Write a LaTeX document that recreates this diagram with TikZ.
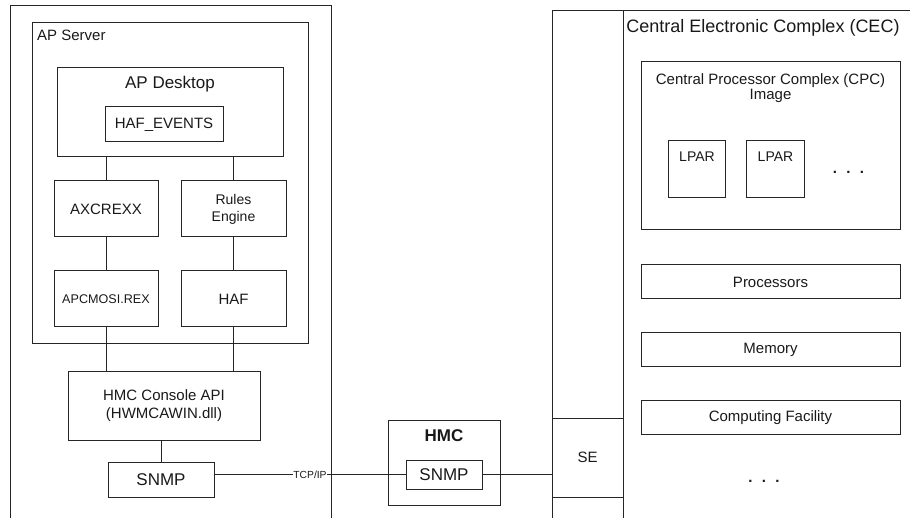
\documentclass[tikz,border=0pt]{standalone}
\usepackage{fontspec}
\setmainfont{Liberation Sans}
\usetikzlibrary{positioning}

\newcommand{\fsz}[2]{\fontsize{#1}{#2}\selectfont}

\begin{document}
\begin{tikzpicture}[x=1pt, y=-1pt,
  box/.style={draw=black!85, line width=1pt, inner sep=0pt, align=center,
    text=black!90, font=\fsz{15}{18}},
  wire/.style={draw=black!85, line width=1pt},
  lbl/.style={inner sep=0pt, text=black!90, font=\fsz{15}{18}}]
\useasboundingbox (0,0) rectangle (910,518);

% AP server side
\draw[wire] (10,518) -- (10,6) -- (331,6) -- (331,518);
\node[box, minimum width=276pt, minimum height=321pt] (apserver) at (170,183.5) {};
\node[lbl, anchor=base west] (apserverlbl) at (37,41) {AP Server};
\node[box, minimum width=226pt, minimum height=89pt] (apdesk) at (170,112.5) {};
\node[lbl, anchor=base, font=\fsz{17}{20}] (apdesklbl) at (170,89) {AP Desktop};
\node[box, minimum width=118pt, minimum height=35pt] (hafev) at (164,124.5) {HAF\_EVENTS};

% Boxes below the desktop
\node[box, minimum width=104pt, minimum height=56pt] (axc) at (106,209) {AXCREXX};
\node[box, minimum width=105pt, minimum height=56pt, font=\fsz{14}{17}] (rules) at (233.5,209) {Rules\\Engine};
\node[box, minimum width=104pt, minimum height=56pt, font=\fsz{12.6}{15}] (apcm) at (106,299) {APCMOSI.REX};
\node[box, minimum width=105pt, minimum height=56pt] (haf) at (233.5,299) {HAF};
\node[box, minimum width=192pt, minimum height=68pt] (hmcapi) at (164,406) {HMC Console API\\(HWMCAWIN.dll)};
\node[box, minimum width=106pt, minimum height=35pt, font=\fsz{17}{20}] (snmpA) at (161,479.5) {SNMP};

% Links
\draw[wire] (axc.north) -- (axc.north |- apdesk.south);
\draw[wire] (rules.north) -- (rules.north |- apdesk.south);
\draw[wire] (axc) -- (apcm);
\draw[wire] (rules) -- (haf);
\draw[wire] (apcm.south) -- (apcm.south |- hmcapi.north);
\draw[wire] (haf.south) -- (haf.south |- hmcapi.north);
\draw[wire] (snmpA.north) -- (snmpA.north |- hmcapi.south);

% HMC
\node[box, minimum width=112pt, minimum height=85pt] (hmc) at (444,462.5) {};
\node[lbl, anchor=base, font=\fsz{17}{20}\bfseries] (hmclbl) at (444,441) {HMC};
\node[box, minimum width=76pt, minimum height=29pt, font=\fsz{17}{20}] (snmpB) at (444,474.5) {SNMP};

% CEC side
\draw[wire] (552,518) -- (552,11) -- (910,11);
\draw[wire] (623,11) -- (623,518);
\node[box, minimum width=71pt, minimum height=79pt] (se) at (587.5,457.5) {SE};
\node[lbl, anchor=base, font=\fsz{18}{21}] (ceclbl) at (763,33) {Central Electronic Complex (CEC)};
\node[box, minimum width=259pt, minimum height=168pt] (cpc) at (770.5,146) {};
\node[lbl, anchor=north, align=center, font=\fsz{15}{15}] (cpclbl) at (770.5,73) {Central Processor Complex (CPC)\\Image};
\foreach \x/\name in {697/lparA, 775.5/lparB} {
  \node[box, minimum width=57.5pt, minimum height=57pt] (\name) at (\x,169.5) {};
  \node[lbl, anchor=north, font=\fsz{14}{17}] at ([yshift=-11pt]\name.north) {LPAR};
}
\node[lbl, font=\fsz{15}{18}\bfseries] (dotsA) at (848.5,172) {.\hspace{9.3pt}.\hspace{9.3pt}.};
\foreach \y/\name/\txt in {282/proc/Processors, 350/mem/Memory, 417.5/cf/Computing Facility} {
  \node[box, minimum width=259pt, minimum height=34pt] (\name) at (770.5,\y) {\txt};
}
\node[lbl, font=\fsz{15}{18}\bfseries] (dotsB) at (764,481) {.\hspace{9.3pt}.\hspace{9.3pt}.};

% Network
\draw[wire] (snmpA.east |- snmpB.west) -- node[fill=white, inner sep=0.5pt, text=black!90, font=\fsz{10.3}{12}] (tcp) {TCP/IP} (snmpB.west);
\draw[wire] (snmpB.east) -- (snmpB.east -| se.west);
\end{tikzpicture}
\end{document}
